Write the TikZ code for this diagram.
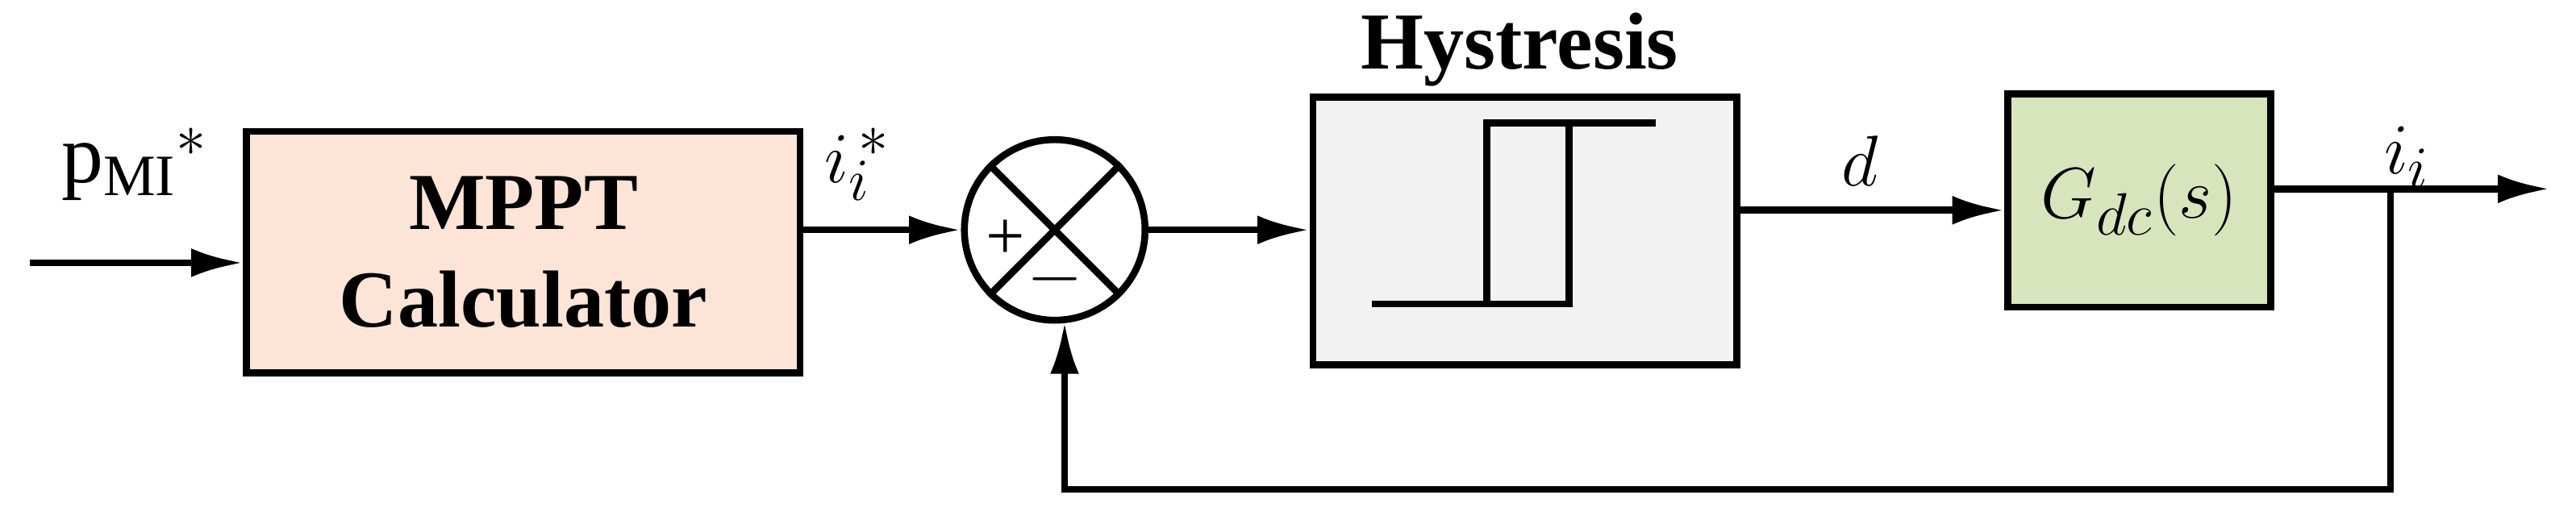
\documentclass[tikz,border=0pt]{standalone}
\usepackage{fontspec}
\setmainfont{Liberation Serif}
\usetikzlibrary{arrows.meta}
\begin{document}
\begin{tikzpicture}[x=0.02cm,y=-0.02cm,line width=2.4pt,
  arr/.style={-{Latex[length=18pt,width=10pt]}},
  lbl/.style={font=\fontsize{29}{34}\selectfont}]
\useasboundingbox (0,0) rectangle (1568,316.6);
\node[draw,fill={rgb,255:red,252;green,228;blue,214},minimum width=6.74cm,minimum height=2.94cm,anchor=north west,align=center,font=\fontsize{28}{34}\bfseries] (mppt) at (148,78) {MPPT\\Calculator};
\node[draw,circle,minimum size=2.2cm,inner sep=0] (sum) at (642,140) {};
\draw (sum.north west)--(sum.south east) (sum.north east)--(sum.south west);
\node[font=\fontsize{24}{28}\selectfont] at (612,146) {+};
\node[font=\fontsize{24}{28}\selectfont] at (642,170) {$-$};
\node[draw,fill={rgb,255:red,242;green,242;blue,242},minimum width=5.16cm,minimum height=3.26cm,anchor=north west] (hys) at (797,57) {};
\node[font=\fontsize{28}{34}\bfseries] (ht) at (925,30) {Hystresis};
\draw (835,185)--(955,185)--(955,75) (905,185)--(905,75)--(1008,75);
\node[draw,fill={rgb,255:red,216;green,228;blue,188},minimum width=3.2cm,minimum height=2.6cm,anchor=north west,lbl] (g) at (1220,55) {$G_{dc}(s)$};
\coordinate (in) at (18,160);
\coordinate (out) at (1552,115);
\coordinate (br) at (1455,115);
\draw[arr] (in)--(in-|mppt.west);
\node[lbl] at (82,100) {$\mathrm{p}_{\mathrm{MI}}{}^{*}$};
\draw[arr] (mppt.east|-sum)--(sum.west);
\node[lbl] at (522,100) {$i_i^{\,*}$};
\draw[arr] (sum.east)--(sum-|hys.west);
\draw[arr] (hys.east|-0,128)--(g.west|-0,128);
\node[lbl] at (1132,98) {$d$};
\draw[arr] (g.east|-out)--(out);
\node[lbl] at (1465,96) {$i_i$};
\draw[arr] (br)--(1455,298)--(648,298)--(648,196);
\end{tikzpicture}
\end{document}
